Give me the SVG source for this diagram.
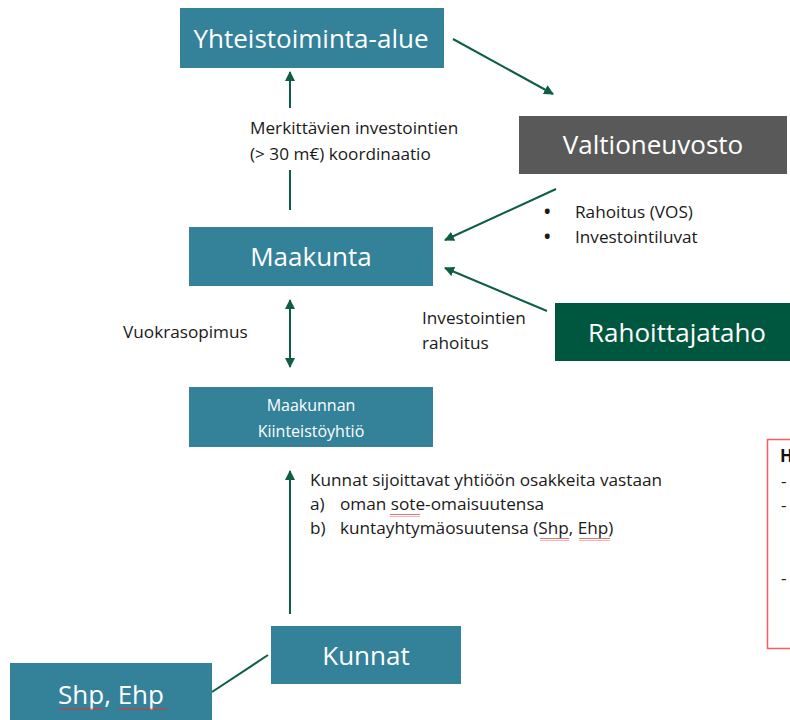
<svg xmlns="http://www.w3.org/2000/svg" width="790" height="720" viewBox="0 0 790 720">
<defs>
<marker id="ah" markerWidth="10" markerHeight="10" refX="9" refY="5" orient="auto-start-reverse" markerUnits="userSpaceOnUse">
<path d="M0,0 L10,5 L0,10 Z" fill="#0E5E40"/>
</marker>
<pattern id="wavy" width="4" height="3" patternUnits="userSpaceOnUse">
<path d="M0,2 L1,0.5 L2,2 L3,0.5 L4,2" fill="none" stroke="#E03030" stroke-width="0.8"/>
</pattern>
</defs>
<style>
.box{fill:#34819A}
.wt{fill:#fff;font-family:"Open Sans","Liberation Sans",sans-serif;text-anchor:middle;font-size:26px}
.ws{font-size:16px}
.t{fill:#1a1a1a;font-family:"Open Sans","Liberation Sans",sans-serif;font-size:17.2px}
.c{stroke:#0E5E40;stroke-width:2;fill:none}
</style>
<rect width="790" height="720" fill="#fff"/>
<g id="connectors">
<line class="c" x1="453" y1="39" x2="553" y2="94" marker-end="url(#ah)"/>
<line class="c" x1="290" y1="108" x2="290" y2="72" marker-end="url(#ah)"/>
<line class="c" x1="290" y1="170" x2="290" y2="210"/>
<line class="c" x1="556" y1="189" x2="445" y2="240" marker-end="url(#ah)"/>
<line class="c" x1="547" y1="311" x2="445" y2="268" marker-end="url(#ah)"/>
<line class="c" x1="290" y1="300" x2="290" y2="367" marker-start="url(#ah)" marker-end="url(#ah)"/>
<line class="c" x1="290" y1="614" x2="290" y2="471" marker-end="url(#ah)"/>
<line class="c" x1="268" y1="655" x2="212" y2="692"/>
</g>
<g id="yhteistoiminta">
<rect class="box" x="180" y="8" width="264" height="60"/>
<text class="wt" x="311" y="48">Yhteistoiminta-alue</text>
</g>
<g id="valtioneuvosto">
<rect x="519" y="116" width="268" height="58" fill="#595959"/>
<text class="wt" x="653" y="154">Valtioneuvosto</text>
</g>
<g id="maakunta">
<rect class="box" x="189" y="227" width="244" height="59"/>
<text class="wt" x="311" y="266">Maakunta</text>
</g>
<g id="rahoittajataho">
<rect x="555" y="303" width="240" height="58" fill="#00573F"/>
<text class="wt" x="677" y="342">Rahoittajataho</text>
</g>
<g id="kiinteistoyhtio">
<rect class="box" x="189" y="387" width="244" height="60"/>
<text class="wt ws" x="311" y="411">Maakunnan</text>
<text class="wt ws" x="311" y="437">Kiinteistöyhtiö</text>
</g>
<g id="kunnat">
<rect class="box" x="271" y="626" width="190" height="58"/>
<text class="wt" x="366" y="665">Kunnat</text>
</g>
<g id="shp-ehp">
<rect class="box" x="10" y="663" width="202" height="60"/>
<text class="wt" x="111" y="704">Shp, Ehp</text>
<rect x="60" y="707" width="43" height="3" fill="url(#wavy)"/>
<rect x="118" y="707" width="49" height="3" fill="url(#wavy)"/>
</g>
<g id="labels">
<text class="t" x="250" y="134">Merkittävien investointien</text>
<text class="t" x="250" y="160">(&gt; 30 m€) koordinaatio</text>
<text class="t" x="544" y="218" font-weight="bold">•</text>
<text class="t" x="575" y="218">Rahoitus (VOS)</text>
<text class="t" x="544" y="243" font-weight="bold">•</text>
<text class="t" x="575" y="243">Investointiluvat</text>
<text class="t" x="422" y="324">Investointien</text>
<text class="t" x="422" y="349">rahoitus</text>
<text class="t" x="123" y="338">Vuokrasopimus</text>
<text class="t" x="310" y="486">Kunnat sijoittavat yhtiöön osakkeita vastaan</text>
<text class="t" x="310" y="510">a)</text>
<text class="t" x="340" y="510">oman sote-omaisuutensa</text>
<text class="t" x="310" y="534">b)</text>
<text class="t" x="340" y="534">kuntayhtymäosuutensa (Shp, Ehp)</text>
<rect x="390" y="514" width="30" height="3" fill="url(#wavy)"/>
<rect x="540" y="538" width="29" height="3" fill="url(#wavy)"/>
<rect x="579" y="538" width="31" height="3" fill="url(#wavy)"/>
</g>
<g id="note">
<rect x="767.5" y="439.5" width="40" height="209" fill="none" stroke="#FF5B5B" stroke-width="1.5"/>
<text x="780" y="462" font-family="'Open Sans','Liberation Sans',sans-serif" font-size="17" font-weight="bold" fill="#111">H</text>
<text class="t" x="781" y="487">-</text>
<text class="t" x="781" y="511">-</text>
<text class="t" x="781" y="584">-</text>
</g>
</svg>
